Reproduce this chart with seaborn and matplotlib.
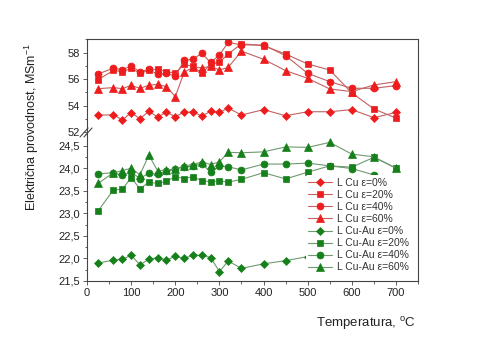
import matplotlib
matplotlib.use("Agg")
import matplotlib.pyplot as plt
import matplotlib.lines as mlines
import seaborn as sns
from matplotlib.ticker import MultipleLocator, FuncFormatter

# Annealing temperature, deg C
temps = [25, 60, 80, 100, 120, 140, 160, 180, 200, 220, 240, 260,
         280, 300, 320, 350, 400, 450, 500, 550, 600, 650, 700]

# Electrical conductivity, MS/m -- pure copper
cu_0 = [53.26, 53.31, 52.90, 53.46, 53.00, 53.56, 53.14, 53.50, 53.15, 53.51, 53.50, 53.21,
        53.56, 53.48, 53.81, 53.28, 53.69, 53.23, 53.53, 53.53, 53.69, 53.08, 53.48]
cu_20 = [55.95, 56.65, 56.55, 56.80, 56.45, 56.65, 56.75, 56.55, 56.45, 57.10, 56.95, 56.43,
         57.10, 57.26, 57.89, 58.66, 58.51, 57.89, 57.13, 56.68, 54.95, 53.74, 53.05]
cu_40 = [56.38, 56.82, 56.70, 56.98, 56.55, 56.73, 56.35, 56.42, 56.22, 57.40, 57.50, 57.94,
         57.25, 57.81, 58.77, 58.57, 58.57, 57.76, 56.43, 55.80, 55.30, 55.30, 55.50]
cu_60 = [55.27, 55.35, 55.27, 55.52, 55.30, 55.52, 55.60, 55.42, 54.67, 56.50, 56.88, 56.85,
         56.95, 56.68, 56.88, 58.10, 57.49, 56.63, 56.05, 55.25, 55.05, 55.55, 55.80]

# Electrical conductivity, MS/m -- copper-gold alloy
cuau_0 = [21.90, 21.96, 21.98, 22.07, 21.86, 21.98, 22.02, 21.96, 22.05, 22.00, 22.07, 22.07,
          22.02, 21.71, 21.94, 21.78, 21.88, 21.95, 22.04, 22.15]
cuau_20 = [23.05, 23.52, 23.53, 23.79, 23.54, 23.69, 23.66, 23.71, 23.81, 23.77, 23.81, 23.72,
           23.70, 23.72, 23.69, 23.75, 23.90, 23.76, 23.91, 24.05, 24.02, 24.24, 24.00]
cuau_40 = [23.87, 23.90, 23.84, 23.91, 23.77, 23.89, 23.86, 23.93, 23.97, 24.03, 24.04, 24.10,
           23.91, 24.05, 24.03, 23.96, 24.09, 24.09, 24.11, 24.05, 23.99, 23.85, 23.63]
cuau_60 = [23.66, 23.90, 23.94, 24.00, 23.85, 24.29, 23.94, 23.96, 23.98, 24.05, 24.08, 24.14,
           24.08, 24.14, 24.35, 24.34, 24.36, 24.47, 24.46, 24.57, 24.31, 24.25, 24.00]

labels_cu = ["L Cu \u03b5=0%", "L Cu \u03b5=20%", "L Cu \u03b5=40%", "L Cu \u03b5=60%"]
labels_cuau = ["L Cu-Au \u03b5=0%", "L Cu-Au \u03b5=20%", "L Cu-Au \u03b5=40%", "L Cu-Au \u03b5=60%"]

sns.set_theme(style="ticks")
plt.rcParams["font.family"] = ["Liberation Sans", "DejaVu Sans"]
plt.rcParams["mathtext.fontset"] = "custom"
plt.rcParams["mathtext.rm"] = "Liberation Sans"
plt.rcParams["mathtext.it"] = "Liberation Sans:italic"

RED, RED_LINE = "#ee1c1c", "#c46060"
GREEN, GREEN_LINE = "#16801a", "#6f9a6f"
AXC = "#444444"

fig = plt.figure(figsize=(4.85, 3.37), dpi=100)
ax_top = fig.add_axes([0.1794, 0.6083, 0.6825, 0.2760])
ax_bot = fig.add_axes([0.1794, 0.1662, 0.6825, 0.4421], sharex=ax_top)

markers = ["D", "s", "o", "^"]
msizes = [4.3, 4.3, 5.0, 5.3]

handles = []
for vals, lab, m, ms in zip([cu_0, cu_20, cu_40, cu_60], labels_cu, markers, msizes):
    sns.lineplot(x=temps[:len(vals)], y=vals, ax=ax_top, color=RED_LINE, linewidth=0.8,
                 marker=m, markersize=ms, markerfacecolor=RED, markeredgecolor=RED,
                 markeredgewidth=0.5, label=lab)
for vals, lab, m, ms in zip([cuau_0, cuau_20, cuau_40, cuau_60], labels_cuau, markers, msizes):
    sns.lineplot(x=temps[:len(vals)], y=vals, ax=ax_bot, color=GREEN_LINE, linewidth=0.8,
                 marker=m, markersize=ms, markerfacecolor=GREEN, markeredgecolor=GREEN,
                 markeredgewidth=0.5, label=lab)

for ax in (ax_top, ax_bot):
    leg = ax.get_legend()
    if leg is not None:
        leg.remove()
    for s in ax.spines.values():
        s.set_color(AXC)
        s.set_linewidth(0.8)
    ax.tick_params(which="both", direction="out", color=AXC, width=0.6,
                   labelsize=8, labelcolor="#222222", pad=2)
    ax.tick_params(which="major", length=3)
    ax.tick_params(which="minor", length=1.8)
    ax.set_xlabel("")
    ax.set_ylabel("")

ax_top.spines["bottom"].set_visible(False)
ax_bot.spines["top"].set_visible(False)
ax_top.tick_params(which="both", bottom=False, labelbottom=False)

ax_top.set_xlim(0, 750)
ax_bot.xaxis.set_major_locator(MultipleLocator(100))
ax_bot.xaxis.set_minor_locator(MultipleLocator(50))

ax_top.set_ylim(52, 59.02)
ax_top.yaxis.set_major_locator(MultipleLocator(2))
ax_top.yaxis.set_minor_locator(MultipleLocator(1))

ax_bot.set_ylim(21.5, 24.80)
ax_bot.yaxis.set_major_locator(MultipleLocator(0.5))
ax_bot.yaxis.set_minor_locator(MultipleLocator(0.25))
ax_bot.yaxis.set_major_formatter(FuncFormatter(lambda v, p: f"{v:.1f}".replace(".", ",")))

# Axis-break marks on the left spine
W, H = 485.0, 337.0
for dx in (0, 4):
    fig.add_artist(mlines.Line2D([(80 + dx) / W, (88 + dx) / W],
                                 [1 - 137 / H, 1 - 128 / H],
                                 color=AXC, linewidth=0.8))

# Combined legend for both panels
h1, l1 = ax_top.get_legend_handles_labels()
h2, l2 = ax_bot.get_legend_handles_labels()
leg = ax_bot.legend(h1 + h2, l1 + l2, loc="lower right", bbox_to_anchor=(0.995, 0.005),
                    frameon=True, facecolor="white", edgecolor="none", framealpha=1,
                    fontsize=7.5, handlelength=2.3, handletextpad=0.4,
                    labelspacing=0.2, borderpad=0.25)
leg.set_zorder(10)
for t in leg.get_texts():
    t.set_color("#333333")

fig.text(32 / W, 1 - 127 / H, "Električna provodnost, MSm$^{-1}$", rotation=90,
         ha="center", va="center", fontsize=9, color="#222222")
fig.text(416 / W, 1 - 323 / H, "Temperatura, $^{\\mathrm{o}}$C", ha="right", va="center",
         fontsize=9.5, color="#222222")

fig.savefig("out.png", dpi=100)
